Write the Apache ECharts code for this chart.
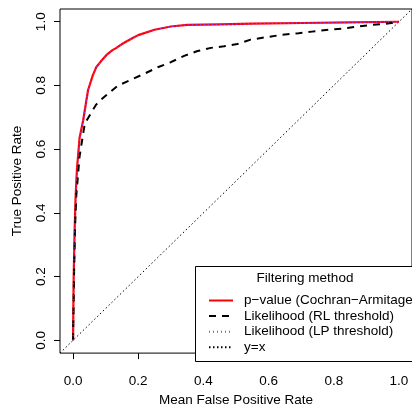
<!DOCTYPE html>
<html>
<head>
<meta charset="utf-8">
<script src="https://cdn.jsdelivr.net/npm/echarts@6/dist/echarts.min.js"></script>
<style>html,body{margin:0;padding:0;background:#fff;}#c{width:412px;height:412px;}</style>
</head>
<body>
<div id="c"></div>
<script>
const tickValues = [0, 0.2, 0.4, 0.6, 0.8, 1.0];
const seriesNames = ["p\u2212value (Cochran\u2212Armitage)", "Likelihood (RL threshold)", "Likelihood (LP threshold)", "y=x"];
const legendTitle = "Filtering method";
const xTitle = "Mean False Positive Rate";
const yTitle = "True Positive Rate";

const pvalFpr = [0, 0.002, 0.005, 0.008, 0.012, 0.02, 0.031, 0.046, 0.06, 0.071, 0.085, 0.102, 0.12, 0.133, 0.15, 0.183, 0.2, 0.25, 0.3, 0.35, 0.45, 0.55, 0.7, 0.85, 1.0];
const pvalTpr = [0, 0.2, 0.35, 0.454, 0.537, 0.635, 0.69, 0.785, 0.83, 0.857, 0.875, 0.895, 0.91, 0.918, 0.93, 0.949, 0.958, 0.975, 0.985, 0.99, 0.992, 0.994, 0.996, 0.998, 1.0];

const rlFpr = [0, 0.003, 0.006, 0.01, 0.02, 0.036, 0.056, 0.071, 0.082, 0.112, 0.137, 0.178, 0.219, 0.26, 0.3, 0.341, 0.382, 0.423, 0.463, 0.504, 0.545, 0.59, 0.641, 0.692, 0.733, 0.784, 0.824, 0.875, 0.916, 0.957, 1.0];
const rlTpr = [0, 0.2, 0.35, 0.454, 0.577, 0.68, 0.715, 0.74, 0.752, 0.778, 0.799, 0.818, 0.837, 0.857, 0.873, 0.893, 0.908, 0.918, 0.923, 0.93, 0.944, 0.951, 0.959, 0.964, 0.969, 0.975, 0.978, 0.985, 0.99, 0.993, 1.0];

const lpFpr = [0, 0.002, 0.005, 0.008, 0.012, 0.02, 0.031, 0.046, 0.06, 0.071, 0.085, 0.102, 0.12, 0.133, 0.15, 0.183, 0.2, 0.25, 0.3, 0.35, 0.45, 0.55, 0.7, 0.85, 1.0];
const lpTpr = [0, 0.2, 0.35, 0.454, 0.537, 0.635, 0.69, 0.785, 0.83, 0.857, 0.875, 0.895, 0.91, 0.918, 0.93, 0.949, 0.958, 0.975, 0.985, 0.99, 0.992, 0.994, 0.996, 0.998, 1.0];

const diagX = [-0.04, 1.04];
const diagY = [-0.04, 1.04];

const zip = (a, b) => a.map((v, i) => [v, b[i]]);
const FONT = '"Liberation Sans", Arial, Helvetica, sans-serif';
const FS = 13.5;

const chart = echarts.init(document.getElementById('c'), null, {renderer: 'canvas'});
chart.setOption({
  animation: false,
  backgroundColor: '#fff',
  textStyle: {fontFamily: FONT},
  grid: {left: 60, top: 9, right: -2, bottom: 51, show: true, borderColor: '#000', borderWidth: 1, backgroundColor: 'transparent'},
  xAxis: {
    type: 'value', min: -0.04, max: 1.04,
    name: xTitle, nameLocation: 'middle', nameGap: 37,
    nameTextStyle: {fontSize: FS, color: '#000', fontFamily: FONT},
    axisLine: {show: false, onZero: false},
    axisTick: {show: true, inside: false, length: 6, lineStyle: {color: '#000'}, customValues: tickValues},
    axisLabel: {show: true, margin: 21, fontSize: FS, color: '#000', fontFamily: FONT, customValues: tickValues, formatter: v => v.toFixed(1)},
    splitLine: {show: false}
  },
  yAxis: {
    type: 'value', min: -0.04, max: 1.04,
    name: yTitle, nameLocation: 'middle', nameGap: 35.5, nameRotate: 90,
    nameTextStyle: {fontSize: FS, color: '#000', fontFamily: FONT},
    axisLine: {show: false, onZero: false},
    axisTick: {show: true, inside: false, length: 6, lineStyle: {color: '#000'}, customValues: tickValues},
    axisLabel: {show: true, margin: 11.5, rotate: 90, fontSize: FS, color: '#000', fontFamily: FONT, customValues: tickValues, formatter: v => v.toFixed(1)},
    splitLine: {show: false}
  },
  legend: {
    orient: 'vertical', left: 203, top: 288.5, itemWidth: 24, itemHeight: 14, itemGap: 1.6,
    data: seriesNames,
    itemStyle: {color: 'rgba(0,0,0,0)', borderWidth: 0, opacity: 0},
    textStyle: {fontSize: FS, color: '#000', fontFamily: FONT, padding: [0, 0, 0, 6]},
    selectedMode: false
  },
  graphic: [
    {type: 'rect', shape: {x: 195.5, y: 266.5, width: 230, height: 95}, style: {fill: '#fff', stroke: '#000', lineWidth: 1}, z: 1},
    {type: 'text', x: 305, y: 278, style: {text: legendTitle, fontSize: FS, fill: '#000', fontFamily: FONT, align: 'center', verticalAlign: 'middle'}, z: 2}
  ],
  series: [
    {name: seriesNames[0], type: 'line', data: zip(pvalFpr, pvalTpr), showSymbol: false, symbol: 'none', lineStyle: {color: '#ff0000', width: 2.2}, itemStyle: {color: '#ff0000'}, z: 3},
    {name: seriesNames[1], type: 'line', data: zip(rlFpr, rlTpr), showSymbol: false, symbol: 'none', lineStyle: {color: '#000', width: 2, type: [7, 6]}, itemStyle: {color: '#000'}, z: 4},
    {name: seriesNames[2], type: 'line', data: zip(lpFpr, lpTpr), showSymbol: false, symbol: 'none', lineStyle: {color: '#9a3cf5', width: 1.4, type: [1, 3]}, itemStyle: {color: '#9a3cf5'}, z: 5},
    {name: seriesNames[3], type: 'line', data: zip(diagX, diagY), showSymbol: false, symbol: 'none', clip: true, lineStyle: {color: '#000', width: 1, type: [1.5, 2.5]}, itemStyle: {color: '#000'}, z: 2}
  ]
});
</script>
</body>
</html>
